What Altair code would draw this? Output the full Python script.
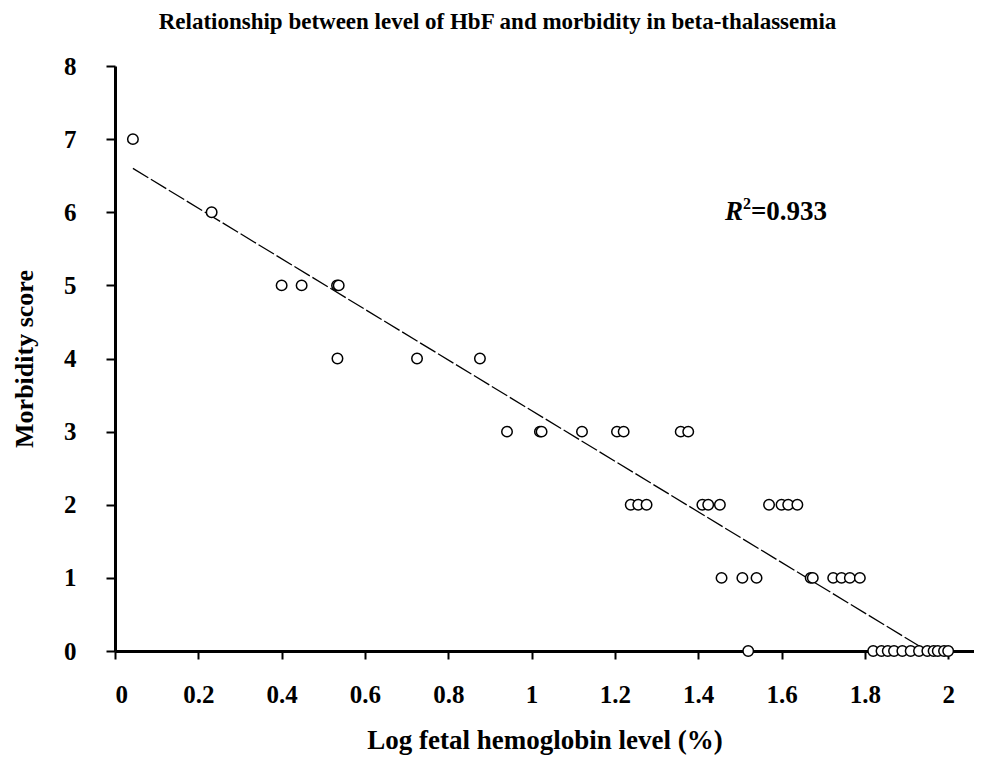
import altair as alt
import pandas as pd

# Scatter data: log fetal hemoglobin level (%) vs morbidity score
log_hbf = [
    0.043,
    0.232,
    0.400, 0.448, 0.533, 0.537,
    0.534, 0.725, 0.876,
    0.941, 1.020, 1.024, 1.121, 1.205, 1.221, 1.358, 1.376,
    1.238, 1.256, 1.276, 1.410, 1.424, 1.452, 1.570, 1.600, 1.616, 1.638,
    1.456, 1.506, 1.540, 1.670, 1.675, 1.724, 1.744, 1.764, 1.788,
    1.520, 1.820, 1.840, 1.855, 1.870, 1.890, 1.910, 1.930, 1.950, 1.965, 1.975, 1.990, 2.000,
]
morbidity = [
    7,
    6,
    5, 5, 5, 5,
    4, 4, 4,
    3, 3, 3, 3, 3, 3, 3, 3,
    2, 2, 2, 2, 2, 2, 2, 2, 2, 2,
    1, 1, 1, 1, 1, 1, 1, 1, 1,
    0, 0, 0, 0, 0, 0, 0, 0, 0, 0, 0, 0, 0,
]

# Fitted regression line end points
fit_x = [0.043, 1.950]
fit_y = [6.60, 0.0]

x_ticks = [0, 0.2, 0.4, 0.6, 0.8, 1.0, 1.2, 1.4, 1.6, 1.8, 2.0]
y_ticks = [0, 1, 2, 3, 4, 5, 6, 7, 8]

r2_x = [1.464]
r2_y = [6.0]

pts = pd.DataFrame({"x": log_hbf, "y": morbidity})
fit = pd.DataFrame({"x": fit_x, "y": fit_y})
ann = pd.DataFrame({"x": r2_x, "y": r2_y})

FONT = "Liberation Serif"

xscale = alt.Scale(domain=[0, 2.062], nice=False, zero=False)
yscale = alt.Scale(domain=[0, 8], nice=False)

xaxis = alt.Axis(
    values=x_ticks, format="~g", title="Log fetal hemoglobin level (%)",
    grid=False, domainColor="black", domainWidth=3, tickColor="black",
    tickWidth=2, tickSize=8, labelFont=FONT, labelFontWeight="bold",
    labelFontSize=25, labelColor="black", labelPadding=23,
    titleFont=FONT, titleFontWeight="bold", titleFontSize=27,
    titleColor="black", titlePadding=20,
)
yaxis = alt.Axis(
    values=y_ticks, format="d", title="Morbidity score",
    grid=False, domainColor="black", domainWidth=3, tickColor="black",
    tickWidth=2, tickSize=9, labelFont=FONT, labelFontWeight="bold",
    labelFontSize=25, labelColor="black", labelPadding=30,
    titleFont=FONT, titleFontWeight="bold", titleFontSize=26,
    titleColor="black", titlePadding=26,
)

X = alt.X("x:Q", scale=xscale, axis=xaxis)
Y = alt.Y("y:Q", scale=yscale, axis=yaxis)

line = alt.Chart(fit).mark_line(
    color="black", strokeWidth=1.3, strokeDash=[18, 3]
).encode(x=X, y=Y)

points = alt.Chart(pts).mark_circle(
    size=110, color="white", fill="white", stroke="black",
    strokeWidth=1.5, opacity=1
).encode(x=X, y=Y)

r_txt = alt.Chart(ann).mark_text(
    text="R", font=FONT, fontWeight="bold", fontStyle="italic",
    fontSize=27, align="left", baseline="middle", color="black"
).encode(x=X, y=Y)

sup_txt = alt.Chart(ann).mark_text(
    text="2", font=FONT, fontWeight="bold", fontSize=16,
    align="left", baseline="middle", color="black", dx=18, dy=-8
).encode(x=X, y=Y)

val_txt = alt.Chart(ann).mark_text(
    text="=0.933", font=FONT, fontWeight="bold", fontSize=27,
    align="left", baseline="middle", color="black", dx=26
).encode(x=X, y=Y)

chart = alt.layer(line, points, r_txt, sup_txt, val_txt).properties(
    width=859,
    height=585,
    autosize=alt.AutoSizeParams(type="none"),
    padding={"left": 107, "top": 58, "right": 0, "bottom": 107},
    title=alt.TitleParams(
        "Relationship between level of HbF and morbidity in beta-thalassemia",
        font=FONT, fontWeight="bold", fontSize=23, color="black",
        anchor="middle", dx=-47, offset=20,
    ),
).configure_view(stroke=None)

chart.save("out.html", embed_options={"renderer": "svg", "actions": False})
